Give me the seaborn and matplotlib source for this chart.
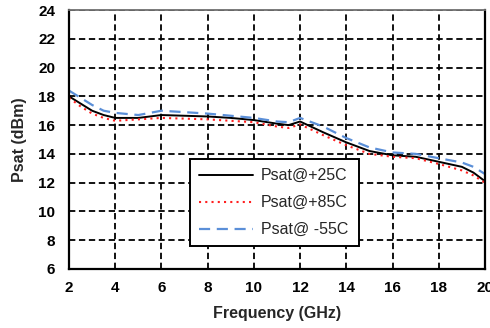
import numpy as np
import pandas as pd
import matplotlib
matplotlib.use("Agg")
import matplotlib.pyplot as plt
from matplotlib.ticker import MultipleLocator
import seaborn as sns

freq = [2, 2.5, 3, 3.5, 4, 5, 6, 7, 8, 9, 10, 11, 11.5, 12, 13, 14, 15, 16, 17, 18, 19, 19.5, 20]
psat_25 = [18.0, 17.5, 17.0, 16.7, 16.5, 16.5, 16.7, 16.65, 16.6, 16.5, 16.35, 16.1, 16.0, 16.25, 15.5, 14.8, 14.2, 13.9, 13.8, 13.45, 13.1, 12.7, 12.1]
psat_85 = [17.9, 17.3, 16.8, 16.5, 16.3, 16.4, 16.5, 16.45, 16.4, 16.3, 16.2, 15.9, 15.8, 16.05, 15.3, 14.6, 14.0, 13.8, 13.7, 13.3, 12.85, 12.5, 12.0]
psat_m55 = [18.4, 17.9, 17.4, 17.0, 16.85, 16.7, 17.0, 16.9, 16.8, 16.65, 16.5, 16.25, 16.2, 16.5, 15.9, 15.1, 14.45, 14.1, 14.0, 13.7, 13.4, 13.1, 12.6]
labels = ["Psat@+25C", "Psat@+85C", "Psat@ -55C"]

sns.set_style("white")
plt.rcParams['font.family'] = ['Liberation Sans', 'DejaVu Sans']

fig = plt.figure(figsize=(4.9, 3.28), dpi=100)
ax = fig.add_axes([0.1408, 0.1799, 0.8490, 0.7896])

sns.lineplot(x=freq, y=psat_25, ax=ax, color='black', linewidth=1.4, label=labels[0])
sns.lineplot(x=freq, y=psat_85, ax=ax, color='#ff2020', linewidth=1.5, linestyle=(0, (1, 2)), label=labels[1])
sns.lineplot(x=freq, y=psat_m55, ax=ax, color='#5b8fd8', linewidth=1.6, linestyle=(0, (5, 3)), label=labels[2])

ax.set_xlim(2, 20)
ax.set_ylim(6, 24)
ax.xaxis.set_major_locator(MultipleLocator(2))
ax.yaxis.set_major_locator(MultipleLocator(2))
ax.xaxis.set_minor_locator(MultipleLocator(1))
ax.yaxis.set_minor_locator(MultipleLocator(1))

ax.grid(True, which='major', color='black', linestyle=(0, (3.5, 2)), linewidth=1.3)
ax.set_axisbelow(True)

for side in ['left', 'bottom', 'right']:
    ax.spines[side].set_color('black')
    ax.spines[side].set_linewidth(1.6)
ax.spines['top'].set_color('#707070')
ax.spines['top'].set_linewidth(1.3)

ax.tick_params(which='major', direction='inout', length=10, width=1.5, colors='black',
               labelsize=11, top=False, right=False)
ax.tick_params(axis='y', which='major', pad=5)
ax.tick_params(axis='x', which='major', pad=4)
ax.tick_params(which='minor', direction='in', length=4, width=1.3, colors='black', top=False, right=False)
for lab in ax.get_xticklabels() + ax.get_yticklabels():
    lab.set_fontweight('bold')

ax.set_xlabel('Frequency (GHz)', fontsize=11.5, fontweight='bold', va='center')
ax.set_ylabel('Psat (dBm)', fontsize=11.5, fontweight='bold', va='center')
ax.xaxis.set_label_coords(0.5, -0.170)
ax.yaxis.set_label_coords(-0.118, 0.5)

leg = ax.legend(loc='lower left', bbox_to_anchor=(0.291, 0.089, 0.406, 0.340), mode='expand',
                fancybox=False, shadow=False, frameon=True, edgecolor='black', fontsize=11.5,
                handlelength=3.4, borderpad=0.55, labelspacing=0.75, handletextpad=0.5,
                borderaxespad=0)
leg.get_frame().set_linewidth(1.4)
leg.get_frame().set_alpha(1)

fig.savefig('out.png', dpi=100)
